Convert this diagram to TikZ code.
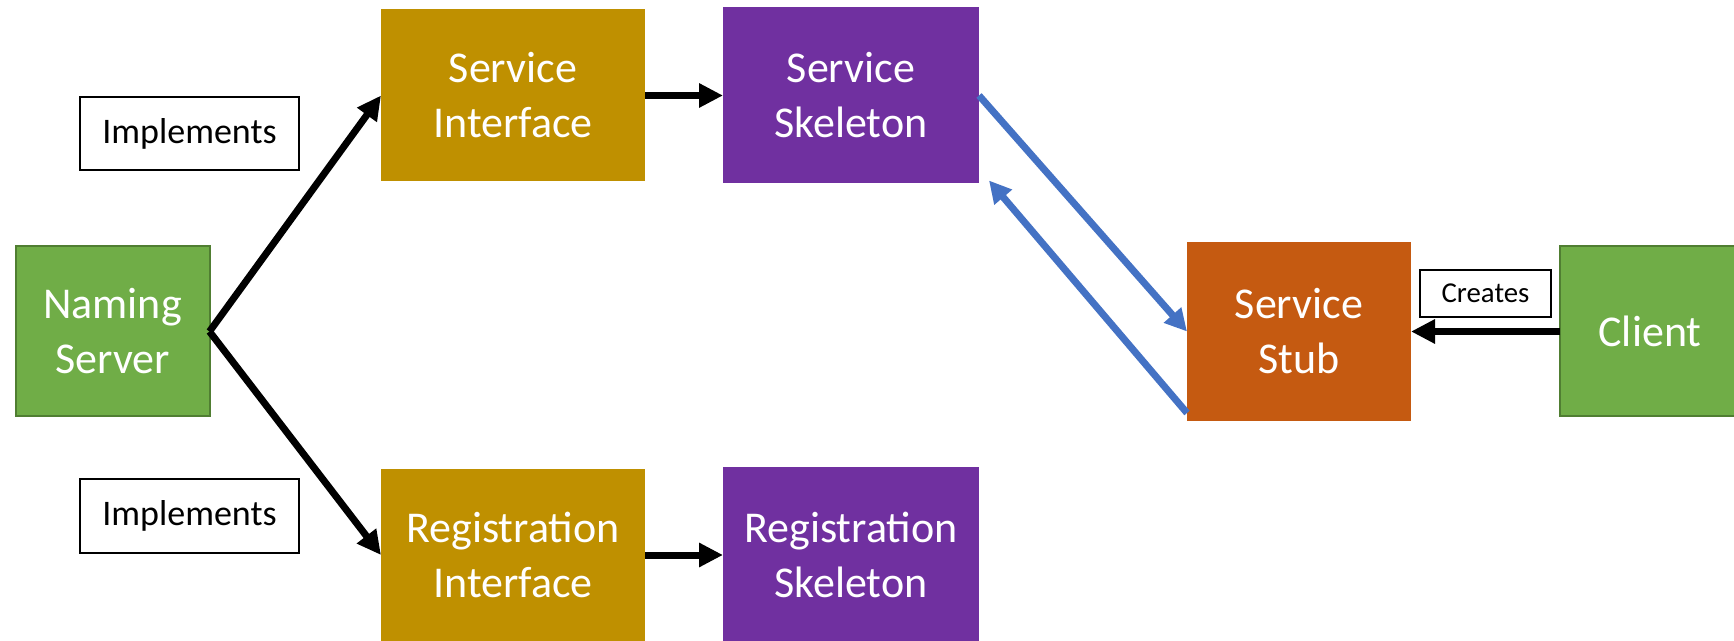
\documentclass[tikz,border=0pt]{standalone}
\usepackage{fontspec}
\setmainfont{Carlito}
\usepackage{tikz}
\usetikzlibrary{arrows.meta,positioning}
\definecolor{cgold}{RGB}{191,144,0}
\definecolor{cpurple}{RGB}{112,48,160}
\definecolor{corange}{RGB}{197,90,17}
\definecolor{cgreen}{RGB}{112,173,71}
\definecolor{cdarkgreen}{RGB}{80,126,50}
\definecolor{cblue}{RGB}{68,114,196}

\begin{document}
\begin{tikzpicture}[x=0.5pt,y=-0.5pt,>={Triangle[length=12pt,width=11.5pt]},
  box/.style={rectangle,outer sep=0pt,inner sep=2pt,text=white,align=center,
    font=\fontsize{22}{27.5}\selectfont},
  interface node/.style={box,fill=cgold,minimum width=132pt,minimum height=86pt},
  skeleton node/.style={box,fill=cpurple,minimum width=128pt,minimum height=88pt},
  green node/.style={box,fill=cgreen,draw=cdarkgreen,line width=1pt,minimum height=85pt},
  stub node/.style={box,fill=corange,minimum width=112pt,minimum height=89.5pt},
  label node/.style={rectangle,draw,line width=1pt,outer sep=0pt,fill=white},
  link/.style={->,line width=3.5pt},
  call/.style={->,line width=3.5pt,draw=cblue,>={Triangle[length=11pt,width=11pt]}}]
  \useasboundingbox (0,0) rectangle (1734,641);

  \node[green node,minimum width=97pt] (ns) at (112.5,331.5) {Naming\\Server};
  \node[interface node] (si) at (513,95.5) {Service\\Interface};
  \node[skeleton node,right=39pt of si] (sk) {Service\\Skeleton};
  \node[interface node] (ri) at (513,555) {Registration\\Interface};
  \node[skeleton node,right=39pt of ri] (rk) {Registration\\Skeleton};
  \node[stub node] (stub) at (1299,331.5) {Service\\Stub};
  \node[green node,minimum width=90pt] (cl) at (1650,331.5) {Client};

  \node[label node,minimum width=109.5pt,minimum height=36.5pt,
    font=\fontsize{18}{22}\selectfont] (im1) at (189.5,133.5) {Implements};
  \node[label node,minimum width=109.5pt,minimum height=37pt,
    font=\fontsize{18}{22}\selectfont] (im2) at (189.5,516) {Implements};
  \node[label node,minimum width=65.5pt,minimum height=23.5pt,
    font=\fontsize{14.4}{17}\selectfont] (cr) at (1485.5,293.5) {Creates};

  \path[link]
    (ns.east) edge (si.west)
    (ns.east) edge (ri.west)
    (si) edge (sk)
    (ri) edge (rk)
    (cl) edge (stub);

  \coordinate (back) at ([xshift=5pt,yshift=1.5pt]sk.south east);
  \draw[call] (sk.east) -- (stub.west);
  \draw[call] ([yshift=4pt]stub.south west) -- (back);
\end{tikzpicture}
\end{document}
